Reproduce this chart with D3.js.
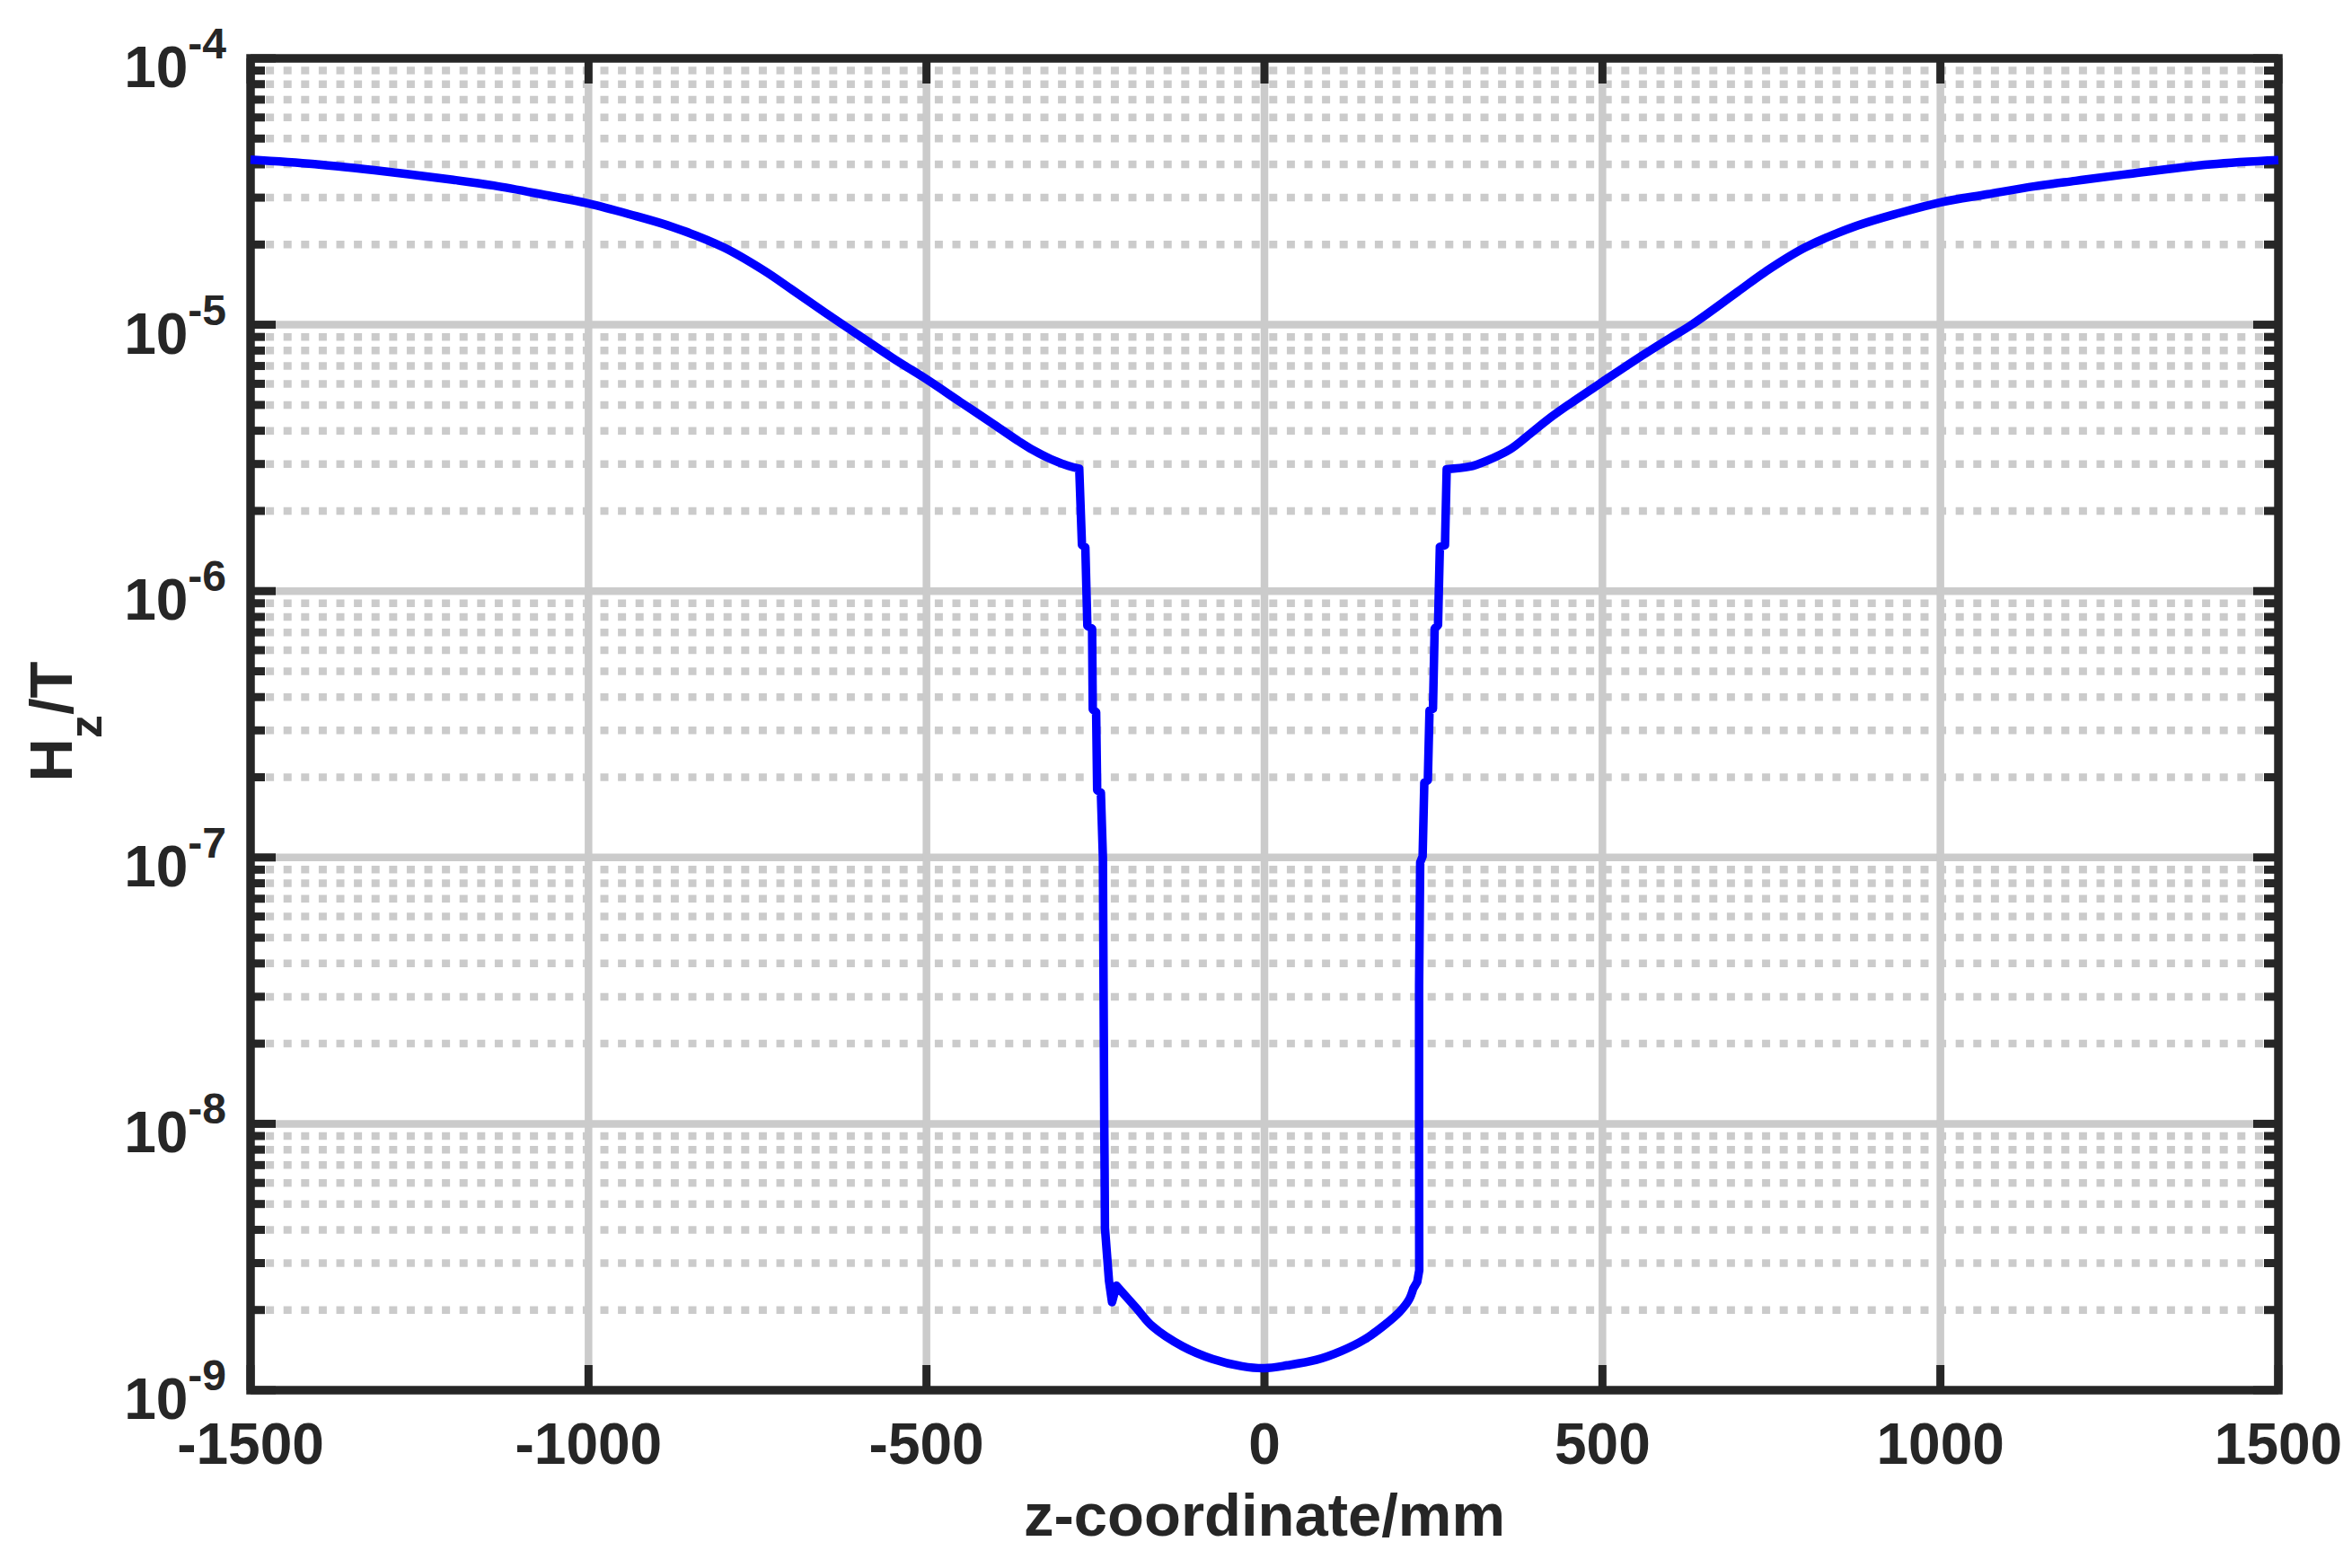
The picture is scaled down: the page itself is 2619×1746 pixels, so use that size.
<!DOCTYPE html>
<html><head><meta charset="utf-8">
<script src="https://cdn.jsdelivr.net/npm/d3@7"></script>
<style>html,body{margin:0;padding:0;background:#fff;} svg{display:block;}</style>
</head><body><svg id="c" width="2619" height="1746"></svg>
<script>
// ---- data ----
const zCoord = [
  -1500,-1405,-1300,-1200,-1140,-1070,-1000,-940,-874,-800,-741,-700,-650,-600,-550,-500,-450,-400,-362,-343,-316,-290,-274,
  -270,-265,-262,-255,-254,-249,-247.5,-242,-239,-238,-237,-236.5,-236,-230,-225.5,-219,
  -190,-166,-121,-77,-33,0,34,77,113,148,178,200,214,220,
  226,229,228.7,228.8,230.4,234,236.5,241.7,244.2,249.3,251.8,256.8,259.5,267.1,269.6,
  302.7,327.9,363.6,387.9,420,450,500,550,600,632,700,741,800,874,940,1000,1070,1140,1200,1274,1400,1500];
const hzValues = [
  4.17e-5,4.01e-5,3.76e-5,3.50e-5,3.33e-5,3.09e-5,2.85e-5,2.60e-5,2.32e-5,1.95e-5,1.60e-5,1.36e-5,1.11e-5,9.12e-6,7.50e-6,6.24e-6,5.13e-6,4.22e-6,3.63e-6,3.39e-6,3.13e-6,2.95e-6,2.88e-6,
  1.49e-6,1.46e-6,7.41e-7,7.23e-7,3.60e-7,3.51e-7,1.79e-7,1.75e-7,1.00e-7,3.16e-8,1.0e-8,6.9e-9,4.07e-9,2.57e-9,2.14e-9,2.47e-9,
  2.04e-9,1.74e-9,1.46e-9,1.31e-9,1.23e-9,1.21e-9,1.24e-9,1.30e-9,1.40e-9,1.55e-9,1.76e-9,1.97e-9,2.19e-9,2.40e-9,
  2.55e-9,2.82e-9,1.0e-8,3.31e-8,9.59e-8,1.01e-7,1.91e-7,1.95e-7,3.56e-7,3.62e-7,7.23e-7,7.46e-7,1.466e-6,1.489e-6,2.87e-6,
  2.93e-6,3.08e-6,3.41e-6,3.80e-6,4.42e-6,5.01e-6,6.10e-6,7.41e-6,8.91e-6,1.0e-5,1.33e-5,1.58e-5,1.95e-5,2.34e-5,2.63e-5,2.88e-5,3.09e-5,3.31e-5,3.47e-5,3.67e-5,4.00e-5,4.15e-5];
// smooth (field) parts vs. stepped (mesh) parts of the trace, as index ranges
const smoothRanges = [[0, 22], [38, 52], [67, 90]];
const stepRanges = [[22, 38], [52, 67]];
const xTickValues = [-1500,-1000,-500,0,500,1000,1500];
const yTickExponents = [-9,-8,-7,-6,-5,-4];
const xAxisLabel = "z-coordinate/mm";
const yAxisLabelMain = "H", yAxisLabelSub = "z", yAxisLabelRest = "/T";

// ---- layout ----
const W = 2619, H = 1746;
const m = {left: 279, top: 65, right: 2537, bottom: 1548};
const FONT = "'Liberation Sans', Arial, Helvetica, sans-serif";
const gridC = "#cbcbcb", axC = "#262626";

const svg = d3.select("#c");
svg.append("rect").attr("width", W).attr("height", H).attr("fill", "#fff");

const x = d3.scaleLinear().domain([-1500, 1500]).range([m.left, m.right]);
const y = d3.scaleLog().domain([1e-9, 1e-4]).range([m.bottom, m.top]);

const major = yTickExponents.map(e => Math.pow(10, e));
const minor = [];
for (let e = -9; e < -4; e++) for (let k = 2; k <= 9; k++) minor.push(k * Math.pow(10, e));

// grid
const grid = svg.append("g");
grid.selectAll("line.mg").data(minor).join("line").attr("class", "mg")
  .attr("x1", m.left - 2.5).attr("x2", m.right).attr("y1", d => y(d)).attr("y2", d => y(d))
  .attr("stroke", gridC).attr("stroke-width", 8.5).attr("stroke-dasharray", "9 10.6");
grid.selectAll("line.My").data(major.slice(1, -1)).join("line").attr("class", "My")
  .attr("x1", m.left).attr("x2", m.right).attr("y1", d => y(d)).attr("y2", d => y(d))
  .attr("stroke", gridC).attr("stroke-width", 8.5);
grid.selectAll("line.Mx").data(xTickValues.slice(1, -1)).join("line").attr("class", "Mx")
  .attr("x1", d => x(d)).attr("x2", d => x(d)).attr("y1", m.top).attr("y2", m.bottom)
  .attr("stroke", gridC).attr("stroke-width", 8.5);

// ticks (inward, both sides)
const ticks = svg.append("g").attr("stroke", axC).attr("stroke-width", 9);
const minorLen = 16, majorLen = 28;
[[m.left, 1], [m.right, -1]].forEach(([x0, s]) => {
  ticks.append("g").selectAll("line").data(minor).join("line")
    .attr("x1", x0).attr("x2", x0 + s * minorLen).attr("y1", d => y(d)).attr("y2", d => y(d));
  ticks.append("g").selectAll("line").data(major).join("line")
    .attr("x1", x0).attr("x2", x0 + s * majorLen).attr("y1", d => y(d)).attr("y2", d => y(d));
});
[[m.bottom, -1], [m.top, 1]].forEach(([y0, s]) => {
  ticks.append("g").selectAll("line").data(xTickValues).join("line")
    .attr("x1", d => x(d)).attr("x2", d => x(d)).attr("y1", y0).attr("y2", y0 + s * majorLen);
});

// box
svg.append("rect").attr("x", m.left).attr("y", m.top)
  .attr("width", m.right - m.left).attr("height", m.bottom - m.top)
  .attr("fill", "none").attr("stroke", axC).attr("stroke-width", 9.5);

// curve: smooth parts drawn with Catmull-Rom, stepped parts with straight segments
const pts = zCoord.map((z, i) => [z, hzValues[i]]);
const smoothLine = d3.line().curve(d3.curveCatmullRom.alpha(0.5)).x(d => x(d[0])).y(d => y(d[1]));
const straightLine = d3.line().x(d => x(d[0])).y(d => y(d[1]));
const pieces = [
  {r: smoothRanges[0], f: smoothLine},
  {r: stepRanges[0], f: straightLine},
  {r: smoothRanges[1], f: smoothLine},
  {r: stepRanges[1], f: straightLine},
  {r: smoothRanges[2], f: smoothLine}
];
let dStr = "";
pieces.forEach((p, i) => {
  const s = p.f(pts.slice(p.r[0], p.r[1] + 1));
  dStr += i === 0 ? s : "L" + s.slice(1);
});
svg.append("path").attr("d", dStr)
  .attr("fill", "none").attr("stroke", "#0000ff").attr("stroke-width", 9.5)
  .attr("stroke-linejoin", "round").attr("stroke-linecap", "butt");

// y tick labels
const yl = svg.append("g").attr("font-family", FONT).attr("font-weight", "bold").attr("fill", axC);
yTickExponents.forEach(e => {
  const t = yl.append("text").attr("x", 252).attr("y", y(Math.pow(10, e)) + 32)
    .attr("text-anchor", "end").attr("font-size", 64);
  t.append("tspan").text("10");
  t.append("tspan").attr("font-size", 48).attr("dy", -32).text(String(e));
});

// x tick labels
svg.append("g").attr("font-family", FONT).attr("font-weight", "bold").attr("fill", axC)
  .selectAll("text").data(xTickValues).join("text")
  .attr("x", d => x(d)).attr("y", 1630).attr("text-anchor", "middle").attr("font-size", 64)
  .text(d => String(d));

// axis labels
svg.append("text").attr("x", (m.left + m.right) / 2).attr("y", 1710)
  .attr("text-anchor", "middle").attr("font-family", FONT).attr("font-weight", "bold")
  .attr("font-size", 67).attr("fill", axC).text(xAxisLabel);

const ylab = svg.append("text").attr("transform", "translate(80,803.5) rotate(-90)")
  .attr("text-anchor", "middle").attr("font-family", FONT).attr("font-weight", "bold")
  .attr("font-size", 67).attr("fill", axC);
ylab.append("tspan").text(yAxisLabelMain);
ylab.append("tspan").attr("font-size", 52).attr("dy", 33).text(yAxisLabelSub);
ylab.append("tspan").attr("font-size", 67).attr("dy", -33).text(yAxisLabelRest);
</script>
</body></html>
